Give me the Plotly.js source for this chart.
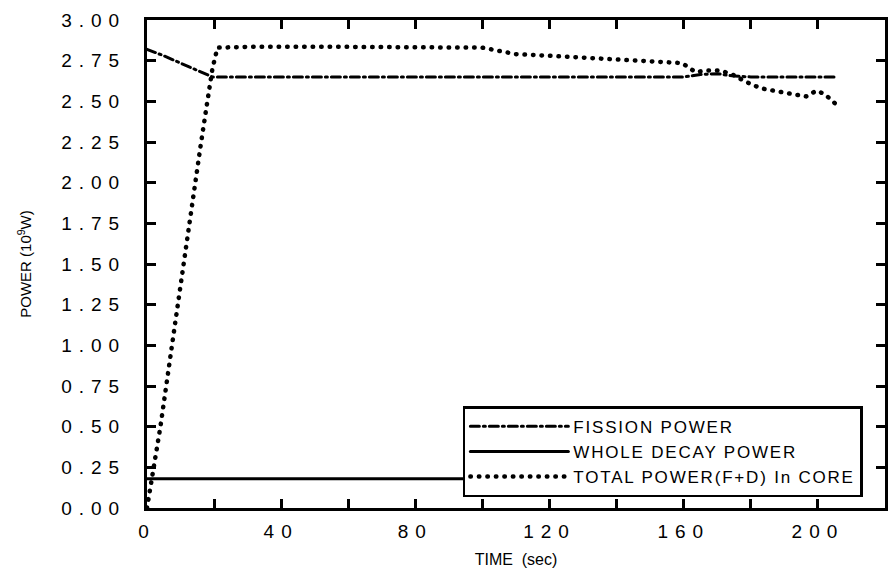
<!DOCTYPE html>
<html>
<head>
<meta charset="utf-8">
<script src="https://cdn.plot.ly/plotly-3.0.1.min.js"></script>
<style>
  html, body { margin: 0; padding: 0; background: #fff; }
  #chart { width: 890px; height: 578px; }
  .xtick text, .ytick text { letter-spacing: 7px; }
  .legendtext { letter-spacing: 1.8px; }
  .scatterlayer path.js-line, .legendlines path { stroke-linecap: round; }
  .legend rect.bg { fill: #fff !important; fill-opacity: 1 !important; }
</style>
</head>
<body>
<div id="chart"></div>
<script>
// ---- data ----
const fissionTime  = [0, 5, 10, 16, 19.5, 40, 80, 120, 160, 165, 170, 175, 180, 205];
const fissionPower = [2.82, 2.78, 2.735, 2.68, 2.65, 2.65, 2.65, 2.65, 2.65, 2.665, 2.67, 2.655, 2.65, 2.65];

const decayTime  = [0, 205];
const decayPower = [0.18, 0.18];

const totalTime  = [0, 1, 2, 4, 8, 12, 16, 18, 19.5, 21, 30, 60, 90, 100, 105, 110, 120, 135, 150, 159.5, 163.5, 167, 171, 175, 178.5, 183, 191, 196.5, 199.5, 202, 205.5];
const totalPower = [0, 0.12, 0.25, 0.5, 1.08, 1.67, 2.23, 2.5, 2.7, 2.83, 2.835, 2.835, 2.835, 2.83, 2.81, 2.79, 2.78, 2.765, 2.75, 2.735, 2.68, 2.69, 2.69, 2.66, 2.62, 2.58, 2.55, 2.53, 2.565, 2.545, 2.48];

const seriesNames = ["FISSION POWER", "WHOLE DECAY POWER", "TOTAL POWER(F+D) In CORE"];

const xTickVals = [0, 40, 80, 120, 160, 200];
const xTickText = ["0", "40", "80", "120", "160", "200"];
const yTickVals = [0, 0.25, 0.5, 0.75, 1.0, 1.25, 1.5, 1.75, 2.0, 2.25, 2.5, 2.75, 3.0];
const yTickText = ["0.00", "0.25", "0.50", "0.75", "1.00", "1.25", "1.50", "1.75", "2.00", "2.25", "2.50", "2.75", "3.00"];

const traces = [
  { x: fissionTime, y: fissionPower, name: seriesNames[0], mode: "lines",
    line: { color: "#000", width: 3, dash: "9px,4px,2px,4px" } },
  { x: decayTime, y: decayPower, name: seriesNames[1], mode: "lines",
    line: { color: "#000", width: 3 } },
  { x: totalTime, y: totalPower, name: seriesNames[2], mode: "lines",
    line: { color: "#000", width: 4.5, dash: "0.5px,8px" } }
];

const tickFont = { family: "Liberation Sans, Arial, sans-serif", size: 19, color: "#000" };

const layout = {
  width: 890, height: 578,
  margin: { l: 147, r: 5, t: 20, b: 70 },
  paper_bgcolor: "#fff", plot_bgcolor: "#fff",
  showlegend: true,
  legend: {
    x: 0.428, y: 0.022, xanchor: "left", yanchor: "bottom",
    bgcolor: "#fff", bordercolor: "#000", borderwidth: 2.5,
    font: { family: "Liberation Sans, Arial, sans-serif", size: 17, color: "#000" },
    itemwidth: 98, tracegroupgap: 0
  },
  xaxis: {
    range: [0, 220], showgrid: false, zeroline: false,
    showline: true, linecolor: "#000", linewidth: 3, mirror: "ticks",
    ticks: "inside", ticklen: 9, tickwidth: 3, tickcolor: "#000",
    tickmode: "array", tickvals: xTickVals, ticktext: xTickText,
    minor: { ticks: "inside", ticklen: 9, tickwidth: 3, tickcolor: "#000", tick0: 0, dtick: 20, showgrid: false },
    tickfont: tickFont, ticklabelstandoff: 4,
    title: { text: "TIME  (sec)", standoff: 14,
      font: { family: "Liberation Sans, Arial, sans-serif", size: 16, color: "#000" } }
  },
  yaxis: {
    range: [0, 3], showgrid: false, zeroline: false,
    showline: true, linecolor: "#000", linewidth: 3, mirror: "ticks",
    ticks: "inside", ticklen: 9, tickwidth: 3, tickcolor: "#000",
    tickmode: "array", tickvals: yTickVals, ticktext: yTickText,
    tickfont: tickFont, ticklabelstandoff: 14,
    title: { text: "POWER (10<sup>9</sup>W)", standoff: 26,
      font: { family: "Liberation Sans, Arial, sans-serif", size: 15, color: "#000" } }
  }
};

Plotly.newPlot("chart", traces, layout, { displayModeBar: false, staticPlot: true });
</script>
</body>
</html>
